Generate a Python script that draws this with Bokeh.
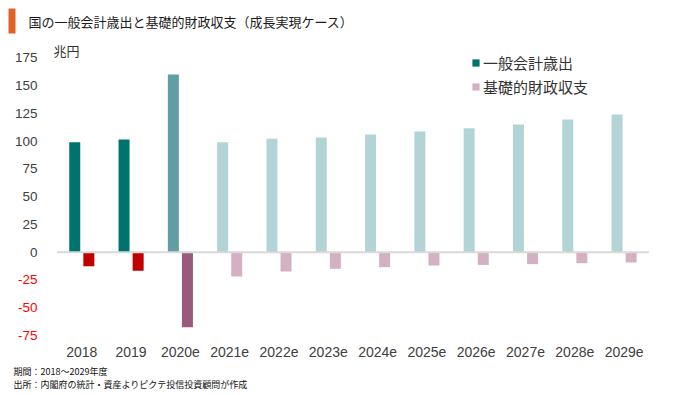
from bokeh.plotting import figure
from bokeh.models import (Range1d, ColumnDataSource, Label, LabelSet,
                          Legend, LegendItem, BoxAnnotation)
from bokeh.core.properties import value
from bokeh.embed import file_html
from bokeh.resources import INLINE

# ---- data ----
years = ["2018", "2019", "2020e", "2021e", "2022e", "2023e", "2024e", "2025e",
         "2026e", "2027e", "2028e", "2029e"]
expenditure = [99.0, 101.5, 160.0, 99.0, 102.0, 103.3, 106.0, 108.5, 111.5, 115.0, 119.5, 124.0]
primary_balance = [-12.6, -16.8, -67.5, -21.9, -17.4, -15.0, -13.5, -12.0, -11.5, -10.8, -9.9, -9.3]
exp_colors = ["#00736f", "#00736f", "#5f9ea3"] + ["#b3d4d6"] * 9
pb_colors = ["#c00000", "#c00000", "#9b5a7c"] + ["#d3b1c3"] * 9
y_ticks = [175, 150, 125, 100, 75, 50, 25, 0, -25, -50, -75]
y_tick_labels = [str(t) for t in y_ticks]
y_tick_colors = ["#404040" if t >= 0 else "#ff0000" for t in y_ticks]
series_names = ["一般会計歳出", "基礎的財政収支"]
title_text = "国の一般会計歳出と基礎的財政収支（成長実現ケース）"
unit_text = "兆円"
footer_lines = ["期間：2018～2029年度", "出所：内閣府の統計・資産よりピクテ投信投資顧問が作成"]

W, H = 680, 395
CJK = "Noto Sans CJK JP"
NUM = "Liberation Sans"

idx = list(range(len(years)))

# the plot frame fills the whole canvas so that no text is clipped
p = figure(width=W, height=H, x_range=Range1d(-1.649, 12.144), y_range=Range1d(-129, 226.5),
           output_backend="svg", toolbar_location=None, x_axis_location=None,
           y_axis_location=None, min_border=0)
p.title.visible = False
p.outline_line_color = None
p.xgrid.visible = False
p.ygrid.visible = False
p.background_fill_color = "white"
p.border_fill_color = "white"

src = ColumnDataSource(dict(i=idx, xe=[i - 0.143 for i in idx], xb=[i + 0.143 for i in idx],
                            e=expenditure, b=primary_balance, ec=exp_colors, bc=pb_colors,
                            yr=years))
r_exp = p.vbar(x="xe", top="e", bottom=0, width=0.223,
               fill_color="ec", line_color=None, source=src)
r_pb = p.vbar(x="xb", top=0, bottom="b", width=0.223,
              fill_color="bc", line_color=None, source=src)

# zero baseline across the category band
p.segment(x0=[-0.5], x1=[len(years) - 0.5], y0=[0], y1=[0], line_color="#d9d9d9", line_width=2)

# category labels
p.add_layout(LabelSet(x="i", y=351, text="yr", source=src, x_units="data", y_units="canvas",
                      text_align="center", text_baseline="middle", text_color="#404040",
                      text_font=value(NUM), text_font_size="14px"))

# y tick labels (coloured per sign)
ysrc = ColumnDataSource(dict(y=y_ticks, t=y_tick_labels, c=y_tick_colors))
p.add_layout(LabelSet(x=37, y="y", text="t", source=ysrc, x_units="canvas", y_units="data",
                      text_align="right", text_baseline="middle", text_color="c",
                      text_font=value(NUM), text_font_size="13.5px"))

leg = Legend(items=[LegendItem(label=series_names[0], renderers=[r_exp], index=0),
                    LegendItem(label=series_names[1], renderers=[r_pb], index=3)],
             location=(471, 298), orientation="vertical",
             glyph_width=9, glyph_height=9, label_standoff=3, spacing=3,
             label_height=20, padding=0, margin=0,
             label_text_font=CJK, label_text_font_size="15px", label_text_color="#333333",
             background_fill_alpha=0, border_line_color=None)
p.add_layout(leg)

# title block and notes
p.add_layout(BoxAnnotation(left=8, right=15, top=8, bottom=33,
                           left_units="canvas", right_units="canvas",
                           top_units="canvas", bottom_units="canvas",
                           fill_color="#e0622a", fill_alpha=1, line_color=None))
p.add_layout(Label(x=28, y=21, x_units="canvas", y_units="canvas", text=title_text,
                   text_font=CJK, text_font_size="13px", text_color="#1a1a1a",
                   text_baseline="middle"))
p.add_layout(Label(x=53, y=50, x_units="canvas", y_units="canvas", text=unit_text,
                   text_font=CJK, text_font_size="13px", text_color="#333333",
                   text_baseline="middle"))
for i, line in enumerate(footer_lines):
    p.add_layout(Label(x=13, y=371 + 13 * i, x_units="canvas", y_units="canvas", text=line,
                       text_font=CJK, text_font_size="9px", text_color="#111111",
                       text_baseline="middle"))

open("out.html", "w").write(file_html(p, INLINE))
